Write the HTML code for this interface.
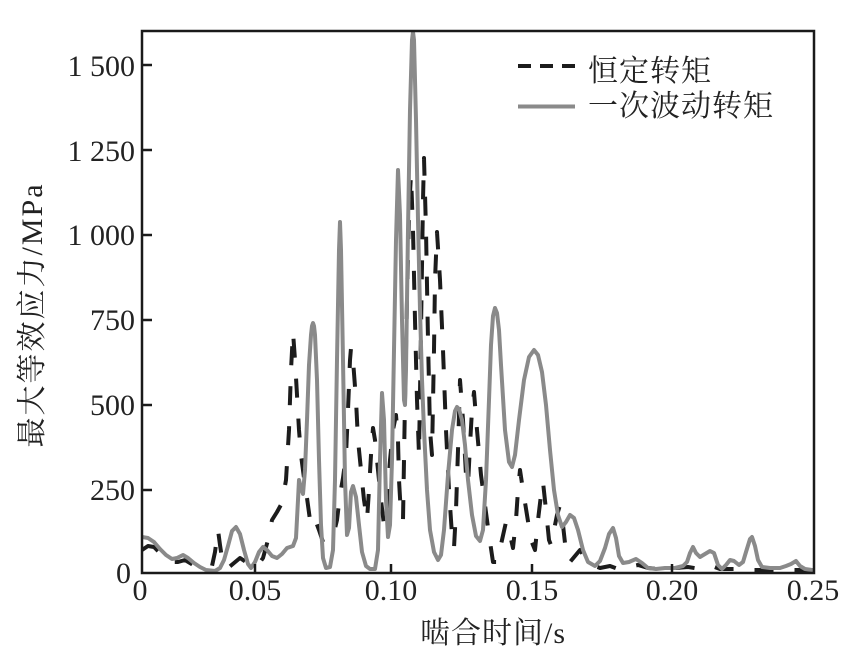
<!DOCTYPE html>
<html>
<head>
<meta charset="utf-8">
<style>
html,body{margin:0;padding:0;background:#fff;}
svg{display:block;}
.tk{font-family:"Liberation Serif","Noto Serif CJK SC",serif;font-size:30px;fill:#222;}
.cj{font-family:"Liberation Serif","Noto Serif CJK SC",serif;font-size:30px;fill:#222;}
</style>
</head>
<body>
<svg width="865" height="670" viewBox="0 0 865 670" xmlns="http://www.w3.org/2000/svg">
<rect x="0" y="0" width="865" height="670" fill="#fff"/>
<defs>
<clipPath id="pc"><rect x="142" y="31" width="672" height="542"/></clipPath>
</defs>

<g clip-path="url(#pc)">
<polyline fill="none" stroke="#1c1c1c" stroke-width="4" stroke-dasharray="19 21" stroke-linejoin="round"
points="142,550 148,546 154,547 162,555 170,562 178,562 185,560 195,566 205,568 212,566 215,552 218,530 220,545 223,565 228,568 234,563 240,558 246,562 252,567 258,565 263,558 268,540 272,520 277,512 282,503 286,480 289,430 291,370 293,332 295,360 297,395 299,430 301,455 304,478 307,498 310,520 313,528 316,522 319,530 323,542 328,540 333,537 337,520 340,495 343,478 346,455 348,410 350,360 351,348 353,360 356,400 358,440 361,470 364,500 367,520 369,490 371,455 373,428 375,440 378,470 381,500 384,525 387,505 390,460 393,430 396,415 398,440 399,480 401,515 403,520 405,400 407,300 409,210 411,175 413,230 415,320 417,400 419,455 421,330 423,200 424,158 426,230 428,340 430,430 432,455 434,350 435,280 437,232 440,280 443,350 446,430 449,490 452,535 454,548 456,510 458,450 460,380 463,420 466,475 468,485 470,445 472,410 474,392 477,430 481,475 485,505 489,535 493,562 497,562 502,540 506,522 510,535 513,548 516,520 518,490 520,470 523,490 527,515 531,540 535,550 538,520 541,495 543,482 546,510 549,540 551,545 554,530 557,515 560,505 563,525 566,552 570,562 575,556 580,550 585,558 592,565 600,568 610,566 618,569 628,567 638,565 648,568 660,569 675,568 688,567 700,569 712,566 720,569 735,569 750,570 800,570 813,570"/>
<polyline fill="none" stroke="#8a8a8a" stroke-width="4" stroke-linejoin="round" stroke-linecap="round"
points="142,537 148,538 154,542 160,549 166,555 172,559 177,558 183,555 188,558 194,563 200,567 206,570 215,571 220,568 224,560 228,546 232,531 236,527 240,534 244,550 248,564 251,568 255,562 259,552 263,547 267,550 272,556 277,558 282,554 287,548 293,546 296,538 298,500 299,480 301,488 303,494 305,470 307,420 309,365 311,335 312,326 313,323 314,326 315,335 317,380 319,460 321,525 323,558 326,568 330,567 333,550 335,480 337,360 339,250 340,222 341,250 343,360 345,480 347,535 349,528 351,492 353,486 356,497 359,525 362,552 366,566 370,569 375,569 378,550 380,460 382,393 384,420 386,500 388,537 390,525 392,460 394,350 396,240 398,170 400,215 402,320 404,400 405,405 406,370 408,230 410,110 412,40 413,32 414,40 416,120 418,220 420,310 422,380 424,430 427,490 430,530 434,552 438,560 441,555 444,530 448,475 452,430 455,411 457,407 459,409 462,420 465,445 468,480 472,515 476,536 480,541 483,530 486,480 489,400 491,345 493,316 495,308 497,313 499,330 501,365 505,430 509,462 512,467 515,455 519,420 524,380 529,357 534,350 538,355 542,372 546,405 550,450 554,490 558,515 562,527 566,522 570,515 574,518 578,530 583,550 588,562 595,566 600,561 605,548 609,534 613,528 616,538 619,556 623,563 629,562 636,559 642,563 648,568 656,569 665,568 675,568 683,566 687,562 690,553 693,547 696,553 700,557 705,554 710,551 714,553 718,565 722,569 726,565 730,560 734,561 739,565 743,562 746,552 750,539 752,537 755,546 758,560 762,567 770,568 780,568 786,566 791,564 796,561 800,566 805,569 812,570"/>
</g>

<!-- axes frame -->
<rect x="142" y="31" width="672" height="542" fill="none" stroke="#1a1a1a" stroke-width="2.5"/>

<!-- ticks -->
<g stroke="#1a1a1a" stroke-width="2.5">
<line x1="142" y1="65" x2="152" y2="65"/>
<line x1="142" y1="150" x2="152" y2="150"/>
<line x1="142" y1="235" x2="152" y2="235"/>
<line x1="142" y1="320" x2="152" y2="320"/>
<line x1="142" y1="405" x2="152" y2="405"/>
<line x1="142" y1="490" x2="152" y2="490"/>
<line x1="255" y1="573" x2="255" y2="564"/>
<line x1="391" y1="573" x2="391" y2="564"/>
<line x1="532" y1="573" x2="532" y2="564"/>
<line x1="672" y1="573" x2="672" y2="564"/>
</g>

<!-- y tick labels -->
<g class="tk" text-anchor="end">
<text x="135" y="76">1 500</text>
<text x="135" y="161">1 250</text>
<text x="135" y="245">1 000</text>
<text x="135" y="330">750</text>
<text x="135" y="415">500</text>
<text x="135" y="500">250</text>
<text x="131" y="583">0</text>
</g>

<!-- x tick labels -->
<g class="tk" text-anchor="middle">
<text x="140" y="600">0</text>
<text x="255" y="600">0.05</text>
<text x="391" y="600">0.10</text>
<text x="532" y="600">0.15</text>
<text x="672" y="600">0.20</text>
<text x="813" y="600">0.25</text>
</g>

<!-- axis titles -->
<text class="cj" x="420" y="643" letter-spacing="1">啮合时间/s</text>
<text class="cj" transform="translate(42,315) rotate(-90)" text-anchor="middle" letter-spacing="2">最大等效应力/MPa</text>

<!-- legend -->
<line x1="518" y1="66" x2="575" y2="66" stroke="#1c1c1c" stroke-width="4" stroke-dasharray="13 9"/>
<line x1="518" y1="106.5" x2="575" y2="106.5" stroke="#8a8a8a" stroke-width="4"/>
<text class="cj" x="588" y="81" letter-spacing="1">恒定转矩</text>
<text class="cj" x="588" y="116" letter-spacing="1">一次波动转矩</text>
</svg>
</body>
</html>
